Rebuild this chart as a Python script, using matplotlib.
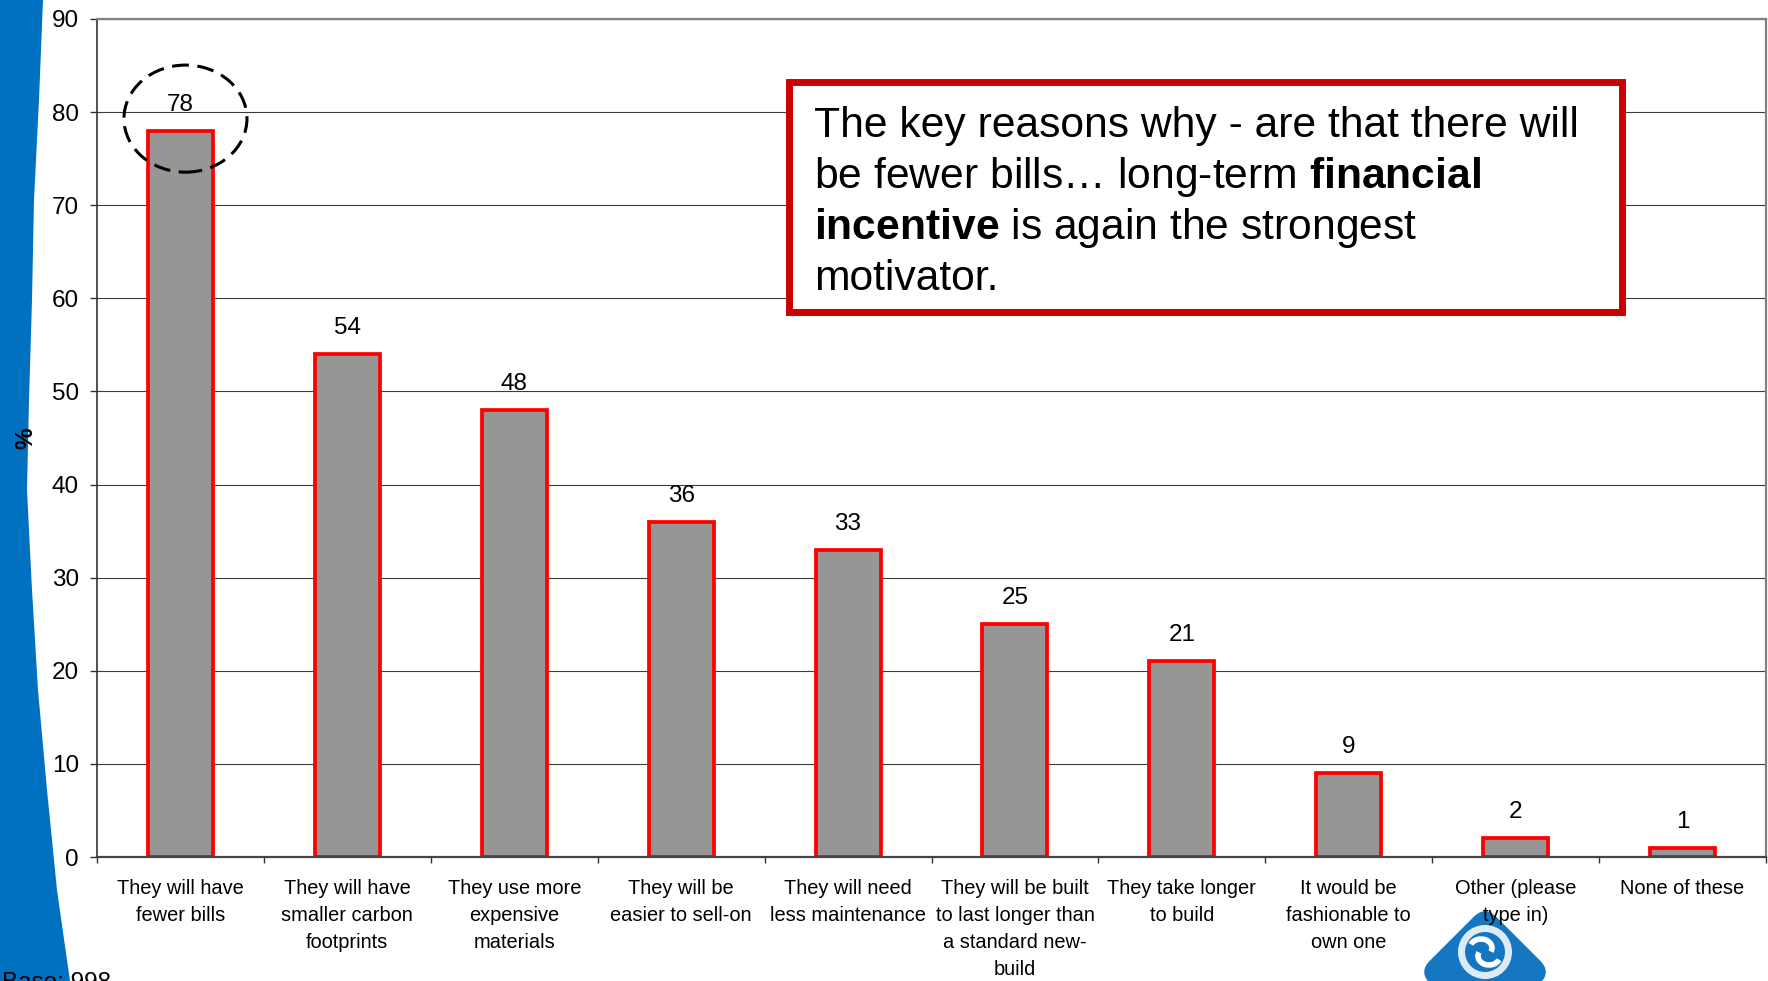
import matplotlib
matplotlib.use('Agg')
import matplotlib.pyplot as plt
from matplotlib.patches import Ellipse, Rectangle, Polygon, FancyBboxPatch, Circle, Arc
from matplotlib.transforms import Affine2D

plt.rcParams['font.family'] = ['Liberation Sans', 'DejaVu Sans']
plt.rcParams['mathtext.fontset'] = 'custom'
plt.rcParams['mathtext.rm'] = 'Liberation Sans'
plt.rcParams['mathtext.bf'] = 'Liberation Sans:bold'

# survey answers (% of respondents)
reasons = ['They will have\nfewer bills',
           'They will have\nsmaller carbon\nfootprints',
           'They use more\nexpensive\nmaterials',
           'They will be\neasier to sell-on',
           'They will need\nless maintenance',
           'They will be built\nto last longer than\na standard new-\nbuild',
           'They take longer\nto build',
           'It would be\nfashionable to\nown one',
           'Other (please\ntype in)',
           'None of these']
pct = [78, 54, 48, 36, 33, 25, 21, 9, 2, 1]
yticks = list(range(0, 100, 10))
note_lines = ['The key reasons why - are that there will',
              'be fewer bills\u2026 long-term $\\mathbf{financial}$',
              '$\\mathbf{incentive}$ is again the strongest',
              'motivator.']
base_text = 'Base: 998'

W, H = 1768, 981
fig = plt.figure(figsize=(W / 100, H / 100), dpi=100)
BLUE = '#0070C0'

# slide background: blue band on the left and the logo, in pixel units
bg = fig.add_axes([0, 0, 1, 1], zorder=0)
bg.set_xlim(0, W)
bg.set_ylim(H, 0)
bg.axis('off')
edge_y = [0, 100, 200, 300, 400, 490, 590, 690, 790, 890, 981]
edge_x = [43, 39, 34, 32, 29, 27, 32, 38, 47, 57, 70]
band = [(0, 0)] + list(zip(edge_x, edge_y)) + [(0, H)]
bg.add_patch(Polygon(band, closed=True, fc=BLUE, ec='none'))

lx, ly = 1485, 972
bg.add_patch(FancyBboxPatch((-47, -47), 94, 94,
                            boxstyle='round,pad=0,rounding_size=16',
                            fc='#1577C2', ec='none',
                            transform=Affine2D().rotate_deg(45).translate(lx, ly) + bg.transData))
bg.add_patch(Circle((lx, ly - 20), 27, fc='#DDEBF7', ec='none'))
bg.add_patch(Circle((lx, ly - 20), 20, fc='#1577C2', ec='none'))
bg.add_patch(Arc((lx - 4, ly - 24), 22, 18, theta1=200, theta2=20, ec='white', lw=4))
bg.add_patch(Arc((lx + 4, ly - 16), 22, 18, theta1=20, theta2=200, ec='white', lw=4))
bg.text(2, 989, base_text, fontsize=17.5, ha='left', va='baseline')

# chart
ax = fig.add_axes([97 / W, 1 - 857 / H, (1766 - 97) / W, (857 - 19) / H], zorder=1)
ax.set_facecolor('none')
x = list(range(len(pct)))
ax.bar(x, pct, width=0.39, color='#969696', edgecolor='#FF0000', linewidth=2.7, zorder=2)
for i, v in zip(x, pct):
    ax.annotate(str(v), (i, v), xytext=(0, 14.4), textcoords='offset points',
                ha='center', va='baseline', fontsize=17.5)

ax.set_xlim(-0.5, len(pct) - 0.5)
ax.set_ylim(0, 90)
ax.set_yticks(yticks)
ax.tick_params(axis='y', length=5, width=1, pad=8, labelsize=17.5, color='#333333')
ax.set_xticks(x)
ax.set_xticklabels(reasons, fontsize=14.4, linespacing=1.53)
ax.tick_params(axis='x', which='major', length=0, pad=16)
ax.set_xticks([i - 0.5 for i in range(len(pct) + 1)], minor=True)
ax.tick_params(axis='x', which='minor', length=4.3, width=1, color='#333333')
ax.yaxis.grid(True, color='#3c3c3c', lw=0.8)
ax.set_axisbelow(True)
ax.spines['left'].set_color('#333333')
ax.spines['left'].set_linewidth(1.2)
ax.spines['bottom'].set_color('#444444')
ax.spines['bottom'].set_linewidth(1.6)
for s in ('top', 'right'):
    ax.spines[s].set_color('#808080')
    ax.spines[s].set_linewidth(1.6)

# dashed ring round the top bar
ax.add_patch(Ellipse((0.03, 79.3), 0.737, 11.5, fill=False, ec='black', lw=2.2,
                     ls=(0, (5.5, 2.8)), clip_on=False, zorder=4))

# overlay: note box and axis label
top = fig.add_axes([0, 0, 1, 1], zorder=3)
top.set_xlim(0, W)
top.set_ylim(H, 0)
top.axis('off')
top.add_patch(Rectangle((789, 82), 833, 230, fc='white', ec='#CC0000', lw=5))
for k, line in enumerate(note_lines):
    top.text(814, 137 + 51 * k, line, fontsize=30.7, ha='left', va='baseline')
top.text(26, 438, '%', rotation=90, fontweight='bold', fontsize=17.5, ha='center', va='center')

fig.savefig('out.png', dpi=100)
